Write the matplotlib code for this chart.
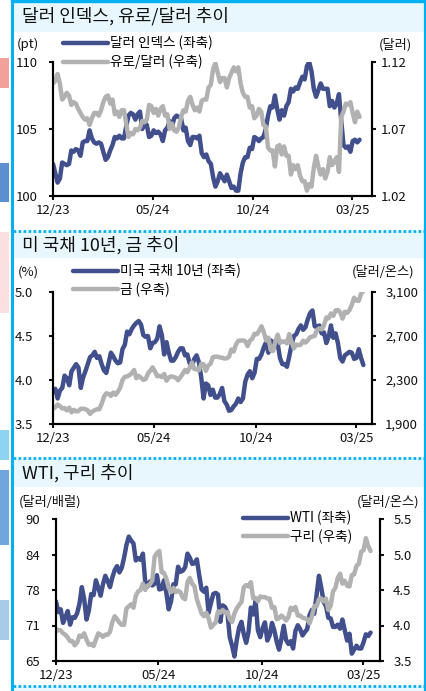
import matplotlib.pyplot as plt
import matplotlib.dates as mdates
import pandas as pd
from matplotlib.patches import Rectangle
from matplotlib.lines import Line2D
from matplotlib.ticker import FormatStrFormatter, FuncFormatter

plt.rcParams['font.family'] = ['Noto Sans CJK KR', 'DejaVu Sans']

# data: twice-weekly readings, 2023-12-20 .. 2025-04-01
start, end = '2023-12-20', '2025-04-01'

dxy = [102.4, 101.7, 101.0, 101.3, 102.5, 102.4, 102.3, 102.4, 103.4, 103.3,
       103.5, 103.4, 103.0, 104.0, 104.1, 104.1, 104.9, 104.3, 104.0, 103.9,
       104.0, 103.9, 103.3, 102.7, 102.9, 103.4, 103.8, 104.4, 104.3, 104.5,
       104.3, 104.3, 105.2, 106.0, 106.2, 106.1, 105.7, 106.1, 106.3, 105.0,
       105.5, 105.3, 104.4, 104.5, 104.9, 104.7, 104.8, 104.6, 104.1, 104.9,
       105.1, 105.6, 105.2, 105.8, 106.0, 105.9, 105.8, 104.9, 105.1, 104.1,
       103.8, 104.4, 104.4, 104.3, 104.5, 103.2, 102.9, 103.1, 102.6, 102.4,
       101.4, 100.7, 101.1, 101.7, 101.4, 101.1, 101.6, 101.1, 100.6, 100.7,
       100.4, 100.4, 101.7, 102.5, 102.9, 102.9, 103.6, 103.5, 104.4, 104.3,
       104.1, 104.3, 104.4, 105.0, 106.0, 106.7, 106.6, 107.5, 106.5, 105.7,
       106.4, 106.0, 106.7, 107.0, 108.0, 107.8, 108.1, 108.0, 108.5, 108.9,
       108.7, 109.7, 110.0, 109.3, 108.0, 107.4, 107.9, 108.4, 108.0, 108.0,
       108.0, 106.7, 107.1, 106.6, 106.9, 107.6, 105.6, 103.8, 103.6, 103.7,
       103.3, 104.1, 104.2, 104.0, 104.2]

eurusd = [1.104, 1.106, 1.111, 1.104, 1.092, 1.094, 1.097, 1.095, 1.088, 1.090,
          1.089, 1.085, 1.082, 1.079, 1.077, 1.078, 1.073, 1.078, 1.082, 1.082,
          1.080, 1.084, 1.090, 1.094, 1.095, 1.089, 1.092, 1.081, 1.083, 1.079,
          1.084, 1.084, 1.074, 1.064, 1.067, 1.066, 1.070, 1.069, 1.071, 1.076,
          1.075, 1.077, 1.088, 1.087, 1.082, 1.085, 1.080, 1.085, 1.087, 1.080,
          1.081, 1.070, 1.074, 1.069, 1.068, 1.071, 1.079, 1.084, 1.083, 1.091,
          1.094, 1.088, 1.084, 1.086, 1.083, 1.091, 1.092, 1.092, 1.101, 1.103,
          1.115, 1.119, 1.112, 1.105, 1.108, 1.108, 1.101, 1.108, 1.112, 1.116,
          1.113, 1.116, 1.104, 1.097, 1.094, 1.094, 1.086, 1.087, 1.078, 1.080,
          1.085, 1.083, 1.073, 1.072, 1.056, 1.054, 1.054, 1.042, 1.057, 1.058,
          1.051, 1.057, 1.050, 1.050, 1.036, 1.043, 1.040, 1.043, 1.035, 1.031,
          1.031, 1.024, 1.029, 1.027, 1.041, 1.050, 1.042, 1.036, 1.040, 1.033,
          1.038, 1.049, 1.043, 1.046, 1.049, 1.038, 1.079, 1.083, 1.089, 1.088,
          1.090, 1.082, 1.075, 1.083, 1.079]

ust10 = [3.86, 3.90, 3.79, 3.88, 3.91, 4.05, 4.02, 3.94, 4.10, 4.14,
         4.18, 4.14, 3.91, 4.03, 4.10, 4.18, 4.26, 4.28, 4.32, 4.25,
         4.27, 4.18, 4.11, 4.08, 4.19, 4.31, 4.27, 4.22, 4.19, 4.20,
         4.35, 4.40, 4.55, 4.52, 4.58, 4.62, 4.65, 4.67, 4.63, 4.51,
         4.49, 4.50, 4.36, 4.42, 4.43, 4.47, 4.61, 4.51, 4.29, 4.43,
         4.31, 4.22, 4.22, 4.26, 4.32, 4.36, 4.36, 4.28, 4.29, 4.19,
         4.16, 4.24, 4.28, 4.20, 4.03, 3.79, 3.96, 3.94, 3.83, 3.89,
         3.80, 3.80, 3.84, 3.91, 3.76, 3.72, 3.65, 3.66, 3.70, 3.73,
         3.79, 3.75, 3.79, 3.98, 4.06, 4.10, 4.02, 4.08, 4.24, 4.24,
         4.29, 4.37, 4.43, 4.31, 4.45, 4.43, 4.41, 4.41, 4.25, 4.18,
         4.18, 4.15, 4.27, 4.40, 4.50, 4.52, 4.58, 4.62, 4.57, 4.60,
         4.69, 4.76, 4.79, 4.61, 4.60, 4.62, 4.53, 4.54, 4.42, 4.49,
         4.62, 4.48, 4.53, 4.42, 4.25, 4.21, 4.28, 4.30, 4.32, 4.31,
         4.24, 4.25, 4.35, 4.25, 4.17]

gold = [2040, 2053, 2077, 2063, 2041, 2045, 2024, 2049, 2006, 2029,
        2014, 2018, 2039, 2039, 2035, 2024, 1992, 2013, 2025, 2035,
        2034, 2083, 2148, 2179, 2175, 2155, 2186, 2165, 2194, 2230,
        2300, 2329, 2333, 2344, 2361, 2391, 2316, 2337, 2320, 2301,
        2309, 2360, 2385, 2415, 2379, 2334, 2338, 2327, 2355, 2294,
        2323, 2333, 2328, 2321, 2298, 2326, 2356, 2392, 2371, 2411,
        2459, 2400, 2398, 2387, 2447, 2443, 2383, 2431, 2447, 2507,
        2512, 2512, 2505, 2503, 2495, 2497, 2512, 2577, 2559, 2622,
        2657, 2658, 2660, 2653, 2608, 2657, 2674, 2721, 2715, 2747,
        2788, 2736, 2659, 2685, 2572, 2563, 2650, 2712, 2636, 2650,
        2650, 2633, 2718, 2648, 2587, 2622, 2617, 2621, 2657, 2640,
        2661, 2689, 2696, 2702, 2756, 2770, 2760, 2798, 2868, 2861,
        2905, 2883, 2933, 2936, 2915, 2858, 2920, 2910, 2935, 2984,
        3048, 3022, 3019, 3085, 3110]

wti = [75.5, 73.6, 74.1, 71.7, 72.7, 73.8, 71.4, 72.7, 72.6, 73.4,
       75.1, 78.0, 75.9, 72.3, 73.9, 76.8, 76.6, 79.2, 77.9, 76.5,
       78.5, 80.0, 79.1, 78.0, 79.7, 81.0, 81.7, 80.6, 81.4, 83.2,
       85.4, 86.9, 86.2, 85.7, 82.7, 83.1, 82.8, 83.9, 79.0, 78.1,
       79.0, 78.3, 78.6, 80.1, 77.6, 77.7, 79.2, 77.0, 74.1, 75.5,
       78.5, 78.5, 81.6, 80.7, 80.9, 81.5, 83.9, 83.2, 82.1, 82.2,
       82.9, 80.1, 77.6, 77.2, 77.9, 73.5, 75.2, 76.8, 77.0, 76.7,
       71.9, 74.8, 74.5, 73.6, 69.2, 67.7, 65.8, 68.7, 70.9, 71.9,
       69.7, 68.2, 70.1, 74.4, 73.2, 75.6, 70.4, 69.2, 70.8, 71.8,
       68.6, 69.5, 71.7, 70.4, 68.4, 67.0, 68.9, 71.2, 68.7, 68.0,
       68.5, 67.2, 70.3, 71.3, 70.6, 69.5, 70.1, 70.6, 73.1, 74.0,
       73.3, 76.6, 80.0, 77.9, 75.4, 74.7, 72.6, 72.5, 71.0, 71.0,
       71.4, 70.7, 72.3, 70.4, 68.6, 69.8, 66.3, 67.0, 67.7, 67.2,
       67.2, 68.3, 69.7, 69.4, 70.0]

copper = [3.92, 3.94, 3.93, 3.89, 3.87, 3.83, 3.78, 3.78, 3.72, 3.76,
          3.86, 3.84, 3.89, 3.80, 3.73, 3.74, 3.71, 3.80, 3.89, 3.87,
          3.84, 3.87, 3.87, 3.91, 4.05, 4.13, 4.09, 4.04, 4.01, 4.01,
          4.24, 4.27, 4.30, 4.25, 4.42, 4.48, 4.50, 4.59, 4.50, 4.56,
          4.58, 4.63, 4.97, 5.02, 5.05, 4.75, 4.74, 4.66, 4.53, 4.47,
          4.53, 4.47, 4.49, 4.47, 4.39, 4.37, 4.61, 4.67, 4.59, 4.55,
          4.37, 4.27, 4.17, 4.13, 4.18, 4.10, 3.97, 4.01, 4.04, 4.20,
          4.18, 4.22, 4.18, 4.19, 4.09, 4.05, 4.17, 4.24, 4.29, 4.33,
          4.54, 4.57, 4.55, 4.61, 4.38, 4.39, 4.34, 4.41, 4.40, 4.40,
          4.38, 4.38, 4.25, 4.26, 4.09, 4.10, 4.14, 4.11, 4.07, 4.12,
          4.25, 4.22, 4.26, 4.14, 4.14, 4.11, 4.10, 4.09, 4.03, 4.13,
          4.27, 4.27, 4.37, 4.38, 4.34, 4.38, 4.22, 4.28, 4.48, 4.53,
          4.67, 4.73, 4.59, 4.63, 4.56, 4.55, 4.71, 4.72, 4.84, 4.87,
          5.04, 5.06, 5.23, 5.12, 5.05]

tick_dates = ['2023-12-20', '2024-05-20', '2024-10-21', '2025-03-21']

BLUE = '#414F8C'
GRAY = '#B1B1B1'
CYAN = '#00B0F0'
BAND = '#E8F7FD'
W, H = 426, 691

fig = plt.figure(figsize=(W / 100, H / 100), dpi=100)


def fx(px):
    return px / W


def fy(py):
    return 1 - py / H


def box(l, t, r, b):
    return [fx(l), fy(b), (r - l) / W, (b - t) / H]


# frame, title bands, separators
for t, b in [(3, 32), (232, 258), (459, 487), (687, 691)]:
    fig.add_artist(Rectangle((fx(12), fy(b)), (424 - 12) / W, (b - t) / H,
                             transform=fig.transFigure, facecolor=BAND, edgecolor='none'))
for yy in [231, 458, 686]:
    fig.add_artist(Line2D([fx(13), fx(424)], [fy(yy)] * 2, color=CYAN, lw=2,
                          linestyle=(0, (1, 0.8))))
fig.add_artist(Line2D([fx(12), fx(12)], [0, fy(1)], color=CYAN, lw=2.2))
fig.add_artist(Line2D([fx(424.5), fx(424.5)], [0, fy(1)], color=CYAN, lw=1.6))
fig.add_artist(Line2D([fx(12), fx(425)], [fy(1.2)] * 2, color=CYAN, lw=2.4))

# bits of the neighbouring page at the left edge
for t, b, c in [(58, 88, '#F2A09A'), (163, 202, '#5B8FD0'), (232, 313, '#FBE0E0'),
                (430, 460, '#8FD3F2'), (470, 545, '#6FA6DE'), (600, 640, '#A9CBEA')]:
    fig.add_artist(Rectangle((0, fy(b)), fx(9), (b - t) / H,
                             transform=fig.transFigure, facecolor=c, edgecolor='none'))

panels = [
    dict(title='달러 인덱스, 유로/달러 추이', ty=16, pos=(53, 62, 372, 196),
         left=dxy, right=eurusd, lname='달러 인덱스 (좌축)', rname='유로/달러 (우축)',
         lylim=(100, 110), lticks=[100, 105, 110], lfmt='%.0f',
         rylim=(1.02, 1.12), rticks=[1.02, 1.07, 1.12], rfmt='%.2f',
         lunit='(pt)', lunit_xy=(28, 44), runit='(달러)', runit_xy=(395, 45),
         lpad=8, rpad=3.5, xend='2025-04-20', leg=(63, 36)),
    dict(title='미 국채 10년, 금 추이', ty=245, pos=(53, 292, 372, 424),
         left=ust10, right=gold, lname='미국 국채 10년 (좌축)', rname='금 (우축)',
         lylim=(3.5, 5.0), lticks=[3.5, 4.0, 4.5, 5.0], lfmt='%.1f',
         rylim=(1900, 3100), rticks=[1900, 2300, 2700, 3100], rfmt=None,
         lunit='(%)', lunit_xy=(28, 272), runit='(달러/온스)', runit_xy=(383, 272),
         lpad=11.5, rpad=6.5, xend='2025-04-14', leg=(73, 264)),
    dict(title='WTI, 구리 추이', ty=473, pos=(56, 519, 380, 661),
         left=wti, right=copper, lname='WTI (좌축)', rname='구리 (우축)',
         lylim=(65, 90), lticks=[65, 71.25, 77.5, 83.75, 90], lfmt='%.0f',
         rylim=(3.5, 5.5), rticks=[3.5, 4.0, 4.5, 5.0, 5.5], rfmt='%.1f',
         lunit='(달러/배럴)', lunit_xy=(50, 502), runit='(달러/온스)', runit_xy=(388, 502),
         lpad=8.5, rpad=6.5, xend='2025-04-15', leg=(243, 511)),
]

for p in panels:
    fig.text(fx(22), fy(p['ty']), p['title'], fontsize=13, fontweight='medium',
             va='center', ha='left', color='#111111')

    ax = fig.add_axes(box(*p['pos']))
    ax2 = ax.twinx()
    xl = pd.date_range(start, end, periods=len(p['left']))
    xr = pd.date_range(start, end, periods=len(p['right']))
    h1, = ax.plot(xl, p['left'], color=BLUE, lw=3.2, solid_joinstyle='round',
                  solid_capstyle='round', label=p['lname'])
    h2, = ax2.plot(xr, p['right'], color=GRAY, lw=3.2, solid_joinstyle='round',
                   solid_capstyle='round', label=p['rname'])

    ax.set_xlim(pd.Timestamp(start), pd.Timestamp(p['xend']))
    ax.set_ylim(*p['lylim'])
    ax2.set_ylim(*p['rylim'])
    ax.set_yticks(p['lticks'])
    ax2.set_yticks(p['rticks'])
    ax.yaxis.set_major_formatter(FormatStrFormatter(p['lfmt']))
    if p['rfmt']:
        ax2.yaxis.set_major_formatter(FormatStrFormatter(p['rfmt']))
    else:
        ax2.yaxis.set_major_formatter(FuncFormatter(lambda v, pos: f'{v:,.0f}'))
    ax.set_xticks(pd.to_datetime(tick_dates))
    ax.xaxis.set_major_formatter(mdates.DateFormatter('%m/%y'))

    for a in (ax, ax2):
        a.spines['top'].set_visible(False)
        for s in a.spines.values():
            s.set_linewidth(1.5)
        a.tick_params(direction='out', length=3, width=1.5, labelsize=9.5, colors='#111111')
    ax.tick_params(axis='x', pad=3)
    ax.tick_params(axis='y', pad=p['lpad'])
    ax2.tick_params(axis='y', pad=p['rpad'])

    fig.text(fx(p['lunit_xy'][0]), fy(p['lunit_xy'][1]), p['lunit'], fontsize=9.5,
             ha='center', va='center', color='#111111')
    fig.text(fx(p['runit_xy'][0]), fy(p['runit_xy'][1]), p['runit'], fontsize=9.5,
             ha='center', va='center', color='#111111')

    ax2.legend([h1, h2], [p['lname'], p['rname']], loc='upper left',
               bbox_to_anchor=(fx(p['leg'][0]), fy(p['leg'][1])),
               bbox_transform=fig.transFigure, frameon=False, fontsize=9.8,
               handlelength=3.3, handletextpad=0.15, labelspacing=0.3,
               borderpad=0, borderaxespad=0)

fig.savefig('out.png', dpi=100)
